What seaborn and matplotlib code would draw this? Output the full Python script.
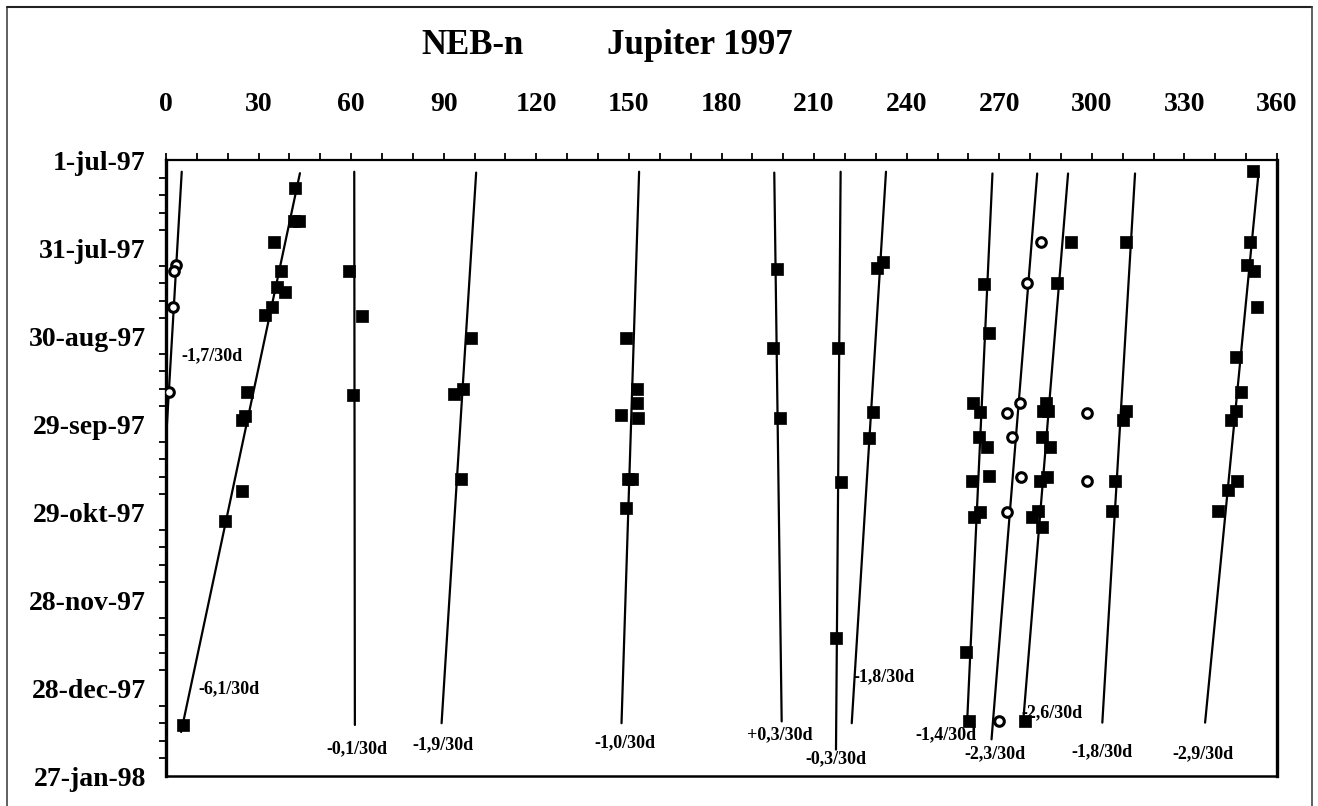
import pandas as pd
import seaborn as sns
import matplotlib.pyplot as plt
from matplotlib.lines import Line2D

# longitude (deg) and day since 1-jul-97 for the filled squares
square_lon = [41.8, 41.5, 43.0, 35.1, 37.3, 35.9, 38.6, 34.5, 32.1, 26.3, 25.6, 24.7, 24.5, 19.1, 5.6,
              59.3, 63.4, 60.7,
              98.8, 96.3, 93.3, 95.6,
              149.2, 152.5, 152.7, 147.3, 153.0, 149.8, 150.9, 149.0,
              198.1, 196.6, 198.9,
              217.9, 218.6, 217.1,
              232.4, 230.5, 229.2, 227.8,
              265.1, 266.8, 261.6, 263.8, 263.3, 265.9, 266.8, 261.3, 263.8, 261.8, 259.1, 260.2,
              293.1, 288.6, 285.3, 285.8, 284.2, 283.7, 286.4, 283.2, 285.5, 282.6, 280.5, 283.7, 278.4,
              311.2, 311.1, 310.2, 307.4, 306.4,
              352.1, 351.3, 350.2, 352.6, 353.4, 346.7, 348.3, 346.7, 345.0, 346.9, 344.2, 340.9]
square_day = [9.7, 20.7, 20.7, 27.8, 38.0, 43.2, 45.1, 50.0, 53.0, 79.0, 87.3, 88.6, 112.8, 123.0, 192.6,
              38.0, 53.2, 80.0,
              60.8, 78.2, 79.8, 108.9,
              60.8, 78.1, 82.7, 87.0, 87.8, 108.9, 108.9, 118.7,
              37.2, 64.0, 88.0,
              64.0, 109.9, 163.1,
              34.9, 36.9, 85.8, 94.9,
              42.3, 58.9, 82.9, 86.0, 94.5, 97.7, 107.6, 109.6, 119.9, 121.6, 167.6, 191.4,
              28.0, 42.0, 82.7, 85.7, 85.7, 94.3, 97.7, 109.6, 108.0, 119.5, 121.6, 125.2, 191.4,
              28.0, 85.7, 88.6, 109.6, 119.5,
              3.6, 28.0, 35.8, 38.0, 50.0, 67.0, 79.2, 85.7, 88.8, 109.6, 112.5, 119.5]

# open circles
circle_lon = [3.4, 2.6, 2.2, 1.1,
              283.5, 278.9, 276.7, 272.6, 274.2, 276.9, 272.4, 270.0,
              298.5, 298.5]
circle_day = [35.8, 38.0, 50.0, 79.0,
              28.0, 42.0, 82.7, 86.1, 94.6, 107.9, 119.9, 191.4,
              86.1, 109.6]

# drift lines: start / end
line_lon0 = [5.1, 43.4, 61.0, 100.5, 153.3, 197.1, 218.6, 233.3, 267.8, 282.3, 292.3, 314.0, 354.0]
line_day0 = [4.0, 4.5, 4.0, 4.3, 4.0, 4.3, 4.0, 4.0, 4.6, 4.6, 4.6, 4.6, 4.6]
line_lon1 = [0.2, 4.9, 61.2, 89.3, 147.6, 199.5, 217.1, 222.2, 259.6, 267.5, 277.8, 303.4, 336.7]
line_day1 = [92.0, 195.0, 192.6, 192.0, 192.0, 191.4, 201.0, 192.0, 191.4, 197.5, 190.9, 191.8, 191.8]

# drift rate labels
rate_text = ["-1,7/30d", "-6,1/30d", "-0,1/30d", "-1,9/30d", "-1,0/30d", "+0,3/30d", "-0,3/30d",
             "-1,8/30d", "-1,4/30d", "-2,3/30d", "-2,6/30d", "-1,8/30d", "-2,9/30d"]
rate_lon = [14.8, 20.3, 62.0, 89.8, 148.7, 199.0, 217.1, 232.7, 252.8, 268.6, 287.0, 303.2, 336.0]
rate_day = [66.8, 180.1, 200.6, 199.5, 198.6, 196.0, 204.0, 176.2, 196.0, 202.3, 188.4, 201.7, 202.3]

date_ticks = [0, 30, 60, 90, 120, 150, 180, 210]
date_labels = ["1-jul-97", "31-jul-97", "30-aug-97", "29-sep-97", "29-okt-97",
               "28-nov-97", "28-dec-97", "27-jan-98"]

sns.set_style("white")
plt.rcParams['font.family'] = ['Liberation Serif', 'DejaVu Serif']
plt.rcParams['font.weight'] = 'bold'
plt.rcParams['text.color'] = 'black'
plt.rcParams['xtick.color'] = 'black'
plt.rcParams['ytick.color'] = 'black'

fig = plt.figure(figsize=(13.18, 8.06), dpi=100)
ax = fig.add_axes([166 / 1318, 1 - 776 / 806, (1277 - 166) / 1318, (776 - 160) / 806])

# drift lines
lines = pd.DataFrame({
    "lon": [v for pair in zip(line_lon0, line_lon1) for v in pair],
    "day": [v for pair in zip(line_day0, line_day1) for v in pair],
    "id": [i for i in range(len(line_lon0)) for _ in range(2)],
})
sns.lineplot(data=lines, x="lon", y="day", units="id", estimator=None, sort=False,
             color="black", linewidth=1.6, ax=ax)

squares = pd.DataFrame({"lon": square_lon, "day": square_day})
sns.scatterplot(data=squares, x="lon", y="day", marker="s", s=85, color="black",
                edgecolor="black", linewidth=0.5, ax=ax, zorder=3)
circles = pd.DataFrame({"lon": circle_lon, "day": circle_day})
sns.scatterplot(data=circles, x="lon", y="day", marker="o", s=48, facecolor="white",
                edgecolor="black", linewidth=2.2, ax=ax, zorder=4)

for t, x, y in zip(rate_text, rate_lon, rate_day):
    ax.text(x, y, t, ha="center", va="center", fontsize=13, fontweight="bold", color="black")

ax.set_xlim(0, 360)
ax.set_ylim(210, 0)
ax.xaxis.tick_top()
ax.set_xticks(range(0, 361, 30))
ax.set_xticks(range(0, 361, 10), minor=True)
ax.set_yticks(date_ticks)
ax.set_yticklabels(date_labels)
ax.set_yticks(range(0, 211, 6), minor=True)
ax.set_xlabel("")
ax.set_ylabel("")
ax.tick_params(axis="x", which="both", direction="out", length=5, width=1.3, pad=26,
               labelsize=20, top=True, bottom=False, colors="black")
ax.tick_params(axis="y", which="major", direction="out", length=6.5, width=1.5, pad=8,
               labelsize=20, colors="black")
ax.tick_params(axis="y", which="minor", direction="out", length=5, width=1.3, left=True, colors="black")
for lbl in ax.get_xticklabels() + ax.get_yticklabels():
    lbl.set_fontweight("bold")

for side, w in [("left", 2.4), ("top", 1.6), ("right", 2.4), ("bottom", 1.8)]:
    ax.spines[side].set_visible(True)
    ax.spines[side].set_linewidth(w)
    ax.spines[side].set_color("black")

fig.text(472 / 1318, 1 - 45 / 806, "NEB-n", ha="center", va="center", fontsize=25,
         fontweight="bold", color="black")
fig.text(700 / 1318, 1 - 45 / 806, "Jupiter 1997", ha="center", va="center", fontsize=25,
         fontweight="bold", color="black")

# page frame
fig.add_artist(Line2D([7 / 1318, 7 / 1318], [0, 1 - 7 / 806], color="#444444", linewidth=1.2))
fig.add_artist(Line2D([7 / 1318, 1312 / 1318], [1 - 7 / 806, 1 - 7 / 806], color="#222222", linewidth=1.5))
fig.add_artist(Line2D([1312 / 1318, 1312 / 1318], [0, 1 - 7 / 806], color="#444444", linewidth=1.2))

fig.savefig("out.png", dpi=100, facecolor="white")
